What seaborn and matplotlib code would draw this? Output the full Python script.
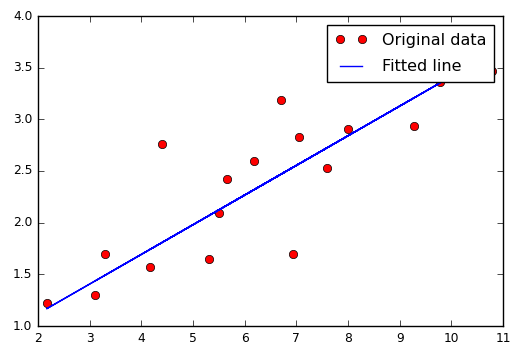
import matplotlib
matplotlib.use("Agg")
import matplotlib.pyplot as plt
import seaborn as sns
import numpy as np

train_X = [3.3, 4.4, 5.5, 6.71, 6.93, 4.168, 9.779, 6.182, 7.59, 2.167,
           7.042, 10.791, 5.313, 7.997, 5.654, 9.27, 3.1]
train_Y = [1.7, 2.76, 2.09, 3.19, 1.694, 1.573, 3.366, 2.596, 2.53, 1.221,
           2.827, 3.465, 1.65, 2.904, 2.42, 2.94, 1.3]
W = 0.287
b = 0.545
fitted = [W * x + b for x in train_X]

plt.style.use("classic")
plt.rcParams["font.family"] = ["DejaVu Sans"]

fig = plt.figure(figsize=(5.21, 3.56), dpi=100, facecolor="white")
ax = fig.add_axes([38 / 521, 30 / 356, 465 / 521, 310 / 356])
ax.set_facecolor("white")

sns.lineplot(x=train_X, y=train_Y, ax=ax, sort=False, estimator=None,
             marker="o", linestyle="", color="red", markersize=6,
             markeredgecolor="black", markeredgewidth=0.5,
             label="Original data")
sns.lineplot(x=train_X, y=fitted, ax=ax, sort=False, estimator=None,
             color="blue", linewidth=1.0, label="Fitted line")

ax.set_xlim(2, 11)
ax.set_ylim(1.0, 4.0)
ax.set_xticks(np.arange(2, 12, 1))
ax.set_yticks(np.arange(1.0, 4.01, 0.5))
ax.set_xticklabels([str(v) for v in range(2, 12)])
ax.set_yticklabels(["%.1f" % v for v in np.arange(1.0, 4.01, 0.5)])
ax.tick_params(labelsize=8.8, direction="in", length=4.3, top=True, right=True)
for s in ax.spines.values():
    s.set_linewidth(1.0)
    s.set_color("black")

leg = ax.legend(loc="upper right", bbox_to_anchor=(456 / 465, 301 / 310),
                borderaxespad=0, numpoints=2, fontsize=11.5, fancybox=False,
                framealpha=1, borderpad=0.5, labelspacing=0.7,
                handletextpad=0.9)
leg.get_frame().set_edgecolor("black")

fig.savefig("out.png", dpi=100, facecolor="white")
